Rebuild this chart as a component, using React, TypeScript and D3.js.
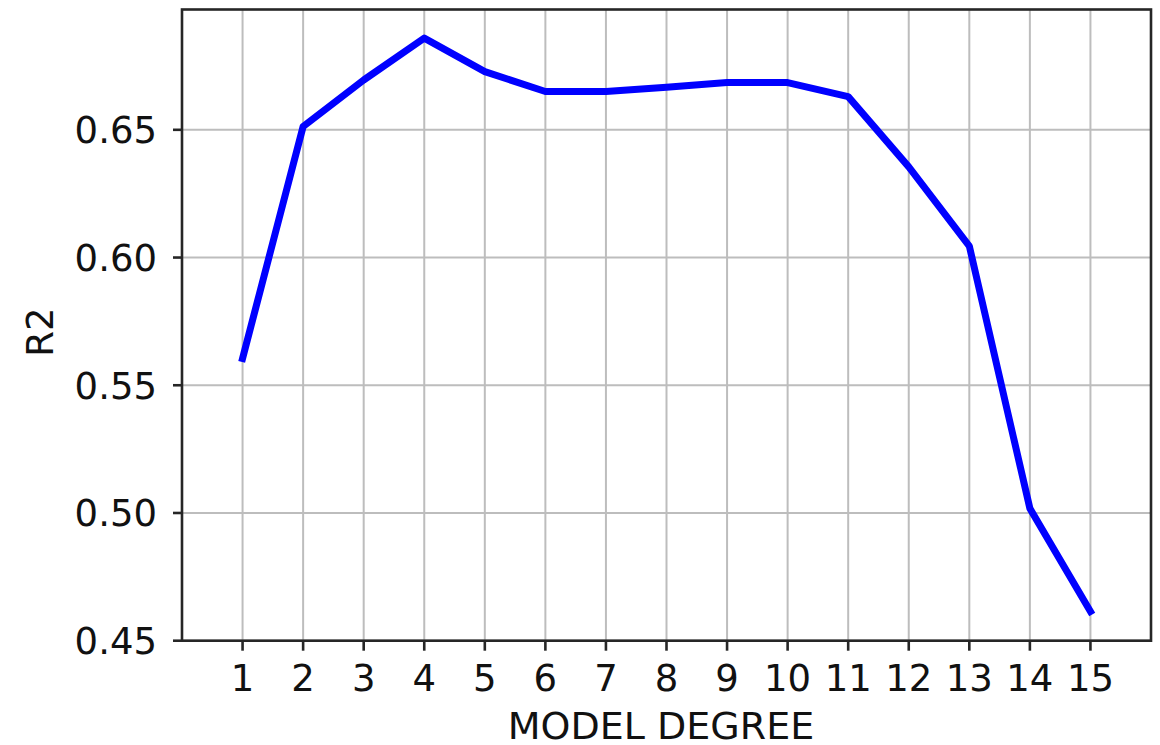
import React from "react";
import * as d3 from "d3";

const degrees = [1, 2, 3, 4, 5, 6, 7, 8, 9, 10, 11, 12, 13, 14, 15];
const r2Values = [0.5605, 0.6513, 0.6695, 0.6859, 0.6728, 0.665, 0.665, 0.6667, 0.6685, 0.6685, 0.663, 0.6355, 0.6045, 0.5018, 0.4614];
const yTicks = [0.45, 0.5, 0.55, 0.6, 0.65];
const xTicks = degrees;

const W = 1160;
const H = 745;
const margin = { left: 182, right: 9, top: 9.5, bottom: 104.3 };

export default function App() {
  const x = d3.scaleLinear().domain([0, 16]).range([margin.left, W - margin.right]);
  const y = d3.scaleLinear().domain([0.45, 0.6971]).range([H - margin.bottom, margin.top]);
  const line = d3
    .line<number>()
    .x((_, i) => x(degrees[i]))
    .y((d) => y(d));
  const font = "'DejaVu Sans', sans-serif";
  const x0 = margin.left;
  const x1 = W - margin.right;
  const y0 = H - margin.bottom;
  const y1 = margin.top;
  return (
    <svg
      width={W}
      height={H}
      style={{ position: "absolute", left: 0, top: 0, background: "#fff" }}
      fontFamily={font}
    >
      <rect x={0} y={0} width={W} height={H} fill="#fff" />
      {/* grid */}
      {xTicks.map((t) => (
        <line key={"gx" + t} x1={x(t)} x2={x(t)} y1={y0} y2={y1} stroke="#bdbdbd" strokeWidth={2} />
      ))}
      {yTicks.map((t) => (
        <line key={"gy" + t} x1={x0} x2={x1} y1={y(t)} y2={y(t)} stroke="#bdbdbd" strokeWidth={2} />
      ))}
      {/* data line */}
      <path
        d={line(r2Values) || ""}
        fill="none"
        stroke="#0000ff"
        strokeWidth={7}
        strokeLinejoin="round"
        strokeLinecap="square"
      />
      {/* spines */}
      <rect x={x0} y={y1} width={x1 - x0} height={y0 - y1} fill="none" stroke="#262626" strokeWidth={2.6} />
      {/* x ticks */}
      {xTicks.map((t) => (
        <g key={"tx" + t}>
          <line x1={x(t)} x2={x(t)} y1={y0} y2={y0 + 10} stroke="#262626" strokeWidth={2.6} />
          <text x={x(t)} y={690.5} textAnchor="middle" fontSize={37} fill="#111">
            {t}
          </text>
        </g>
      ))}
      {/* y ticks */}
      {yTicks.map((t) => (
        <g key={"ty" + t}>
          <line x1={x0 - 9} x2={x0} y1={y(t)} y2={y(t)} stroke="#262626" strokeWidth={2.6} />
          <text x={157} y={y(t)} dy="0.36em" textAnchor="end" fontSize={37} fill="#111">
            {d3.format(".2f")(t)}
          </text>
        </g>
      ))}
      <text x={661} y={739} textAnchor="middle" fontSize={38} fill="#111">
        MODEL DEGREE
      </text>
      <text
        transform={`translate(52.5, 332) rotate(-90)`}
        textAnchor="middle"
        fontSize={37}
        fill="#111"
      >
        R2
      </text>
    </svg>
  );
}
